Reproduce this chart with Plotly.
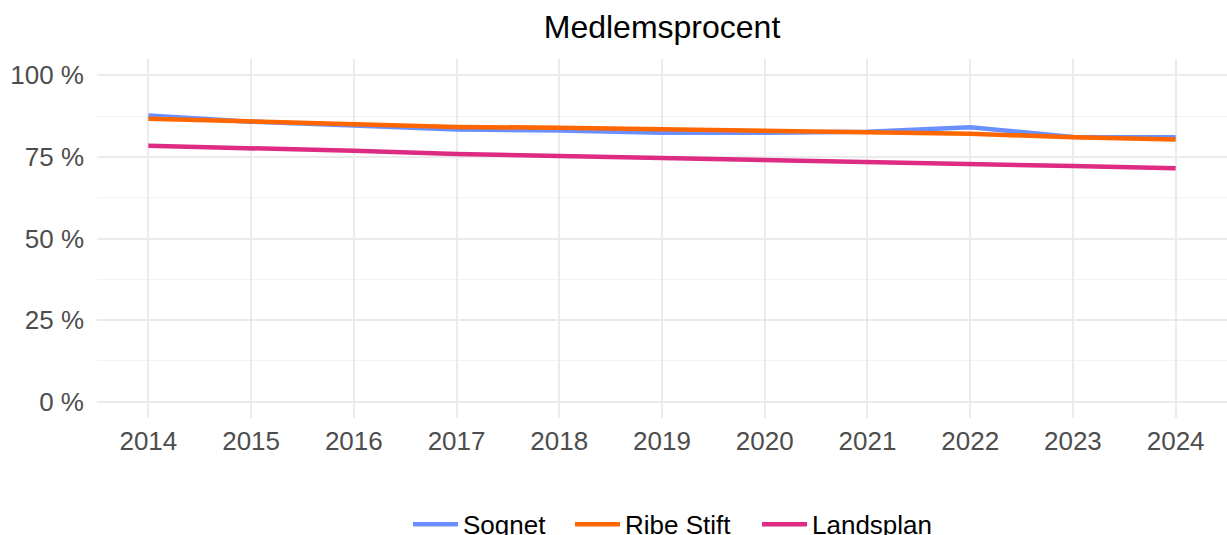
import plotly.graph_objects as go

years = [2014, 2015, 2016, 2017, 2018, 2019, 2020, 2021, 2022, 2023, 2024]
sognet = [87.7, 85.8, 84.6, 83.4, 83.1, 82.4, 82.4, 82.7, 84.1, 81.1, 81.0]
ribe_stift = [86.7, 85.8, 85.0, 84.2, 83.9, 83.5, 83.1, 82.7, 82.1, 81.0, 80.3]
landsplan = [78.4, 77.8, 76.9, 75.9, 75.3, 74.7, 74.1, 73.5, 73.1, 72.2, 71.5]
series_names = ["Sognet", "Ribe Stift", "Landsplan"]
y_ticks = [0, 25, 50, 75, 100]
y_ticktext = ["0 %", "25 %", "50 %", "75 %", "100 %"]
y_minor = [12.5, 37.5, 62.5, 87.5]

colors = ["#6A8FFF", "#FF6600", "#DD2A82"]
FONT = "Liberation Sans, Arial, Helvetica, sans-serif"

W, H = 1227, 535
ml, mr, mt, mb = 97, 0, 58.6, 116.6
PW = W - ml - mr
PH = H - mt - mb

legend_ids = ["legend", "legend2", "legend3"]
legend_px = [408, 570, 757]  # left edge of each legend entry (pixels)

fig = go.Figure()
for name, vals, col, lid in zip(series_names, [sognet, ribe_stift, landsplan], colors, legend_ids):
    fig.add_trace(go.Scatter(x=years, y=vals, mode="lines", name=name,
                             legend=lid, line=dict(color=col, width=4.5)))

legend_y = -(525 - (H - mb)) / PH
legend_common = dict(orientation="h", xref="paper", xanchor="left",
                     yanchor="middle", y=legend_y, itemwidth=45,
                     font=dict(size=26, color="black", family=FONT),
                     bgcolor="rgba(0,0,0,0)", borderwidth=0)

layout_legends = {}
for lid, px in zip(legend_ids, legend_px):
    layout_legends[lid] = dict(legend_common, x=(px - ml) / PW)

fig.update_layout(
    width=W, height=H,
    margin=dict(l=ml, r=mr, t=mt, b=mb, pad=0, autoexpand=False),
    paper_bgcolor="white", plot_bgcolor="white",
    font=dict(family=FONT, color="black"),
    title=dict(text="Medlemsprocent", x=0.5, xref="paper", xanchor="center",
               y=1 - 27 / H, yref="container", yanchor="middle",
               font=dict(size=32, color="black", family=FONT)),
    showlegend=True,
    xaxis=dict(range=[2013.5, 2024.5], tickmode="array", tickvals=years,
               ticktext=[str(y) for y in years], showgrid=True,
               gridcolor="#EBEBEB", gridwidth=2.2, zeroline=False,
               showline=False, ticks="", ticklabelstandoff=5,
               tickfont=dict(size=26, color="#4D4D4D", family=FONT)),
    yaxis=dict(range=[-5, 105], tickmode="array", tickvals=y_ticks,
               ticktext=y_ticktext, showgrid=True, gridcolor="#EBEBEB",
               gridwidth=2.2, zeroline=False, showline=False, ticks="",
               ticklabelstandoff=12,
               tickfont=dict(size=26, color="#4D4D4D", family=FONT),
               minor=dict(tickvals=y_minor, showgrid=True,
                          gridcolor="#F2F2F2", gridwidth=1.2)),
    **layout_legends,
)

fig.write_html("out.html", config={"displayModeBar": False},
               post_script="document.body.style.margin='0';")
